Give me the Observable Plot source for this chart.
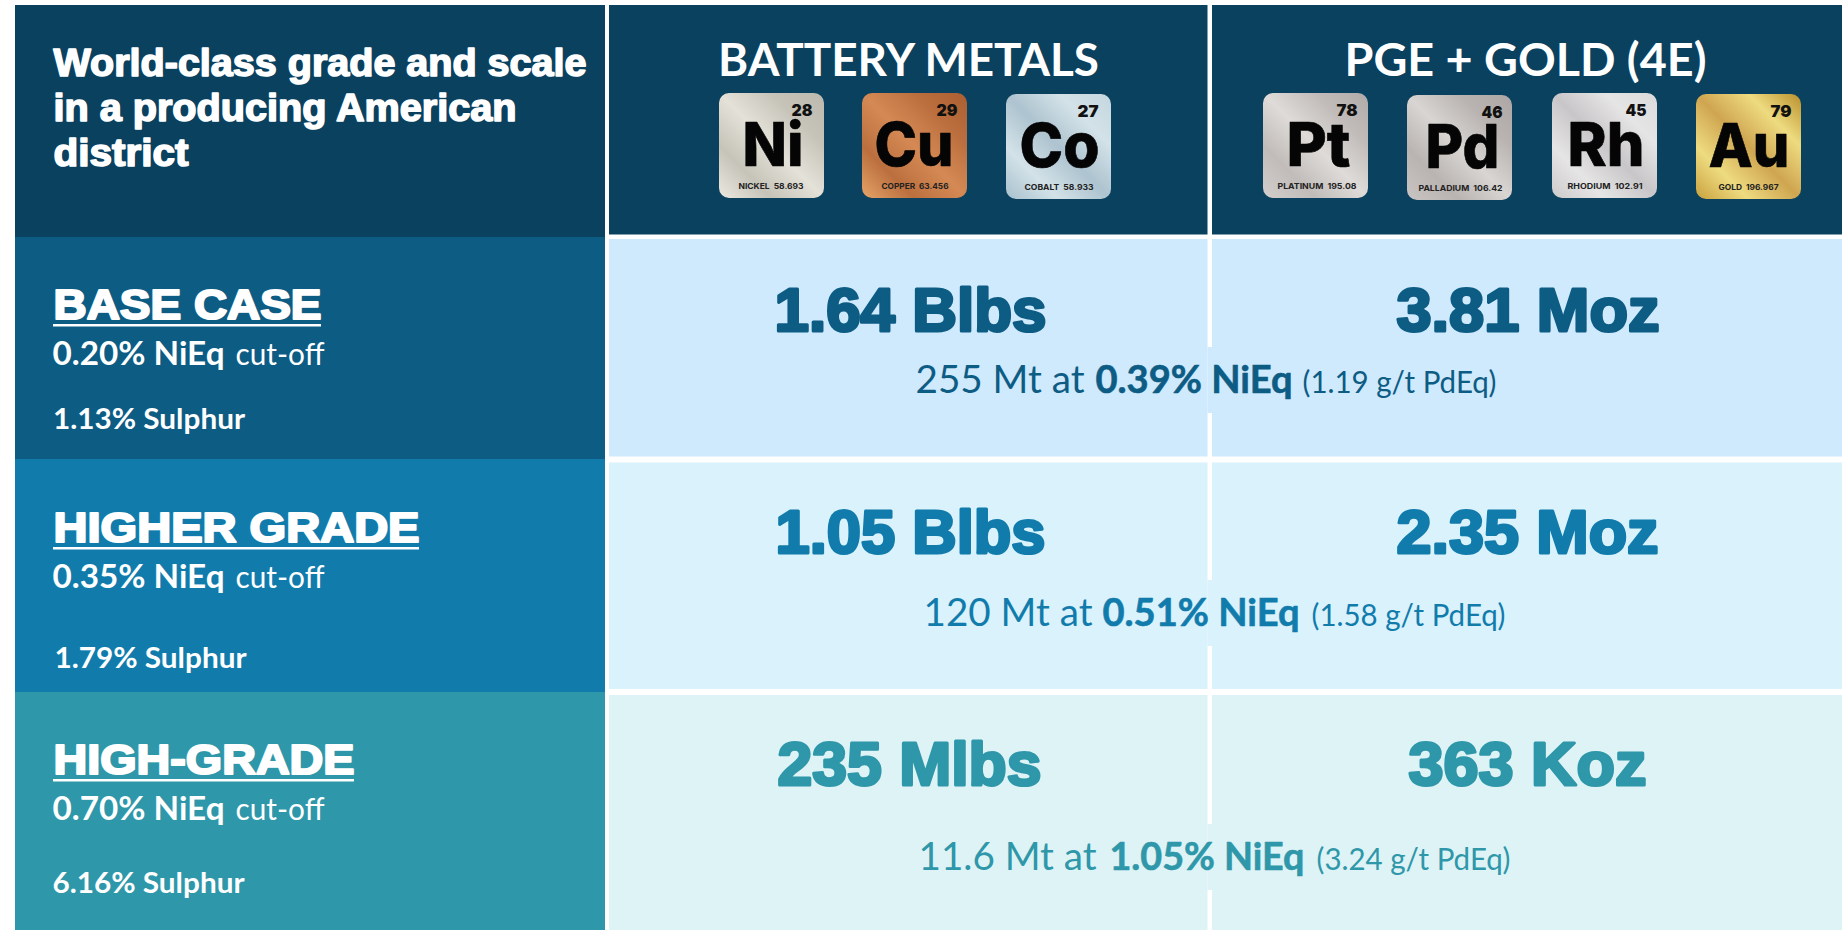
<!DOCTYPE html>
<html><head><meta charset="utf-8">
<script src="https://cdn.jsdelivr.net/npm/d3@7"></script>
<script src="https://cdn.jsdelivr.net/npm/@observablehq/plot@0.6"></script>
<style>html,body{margin:0;padding:0;background:#fff;overflow:hidden}svg{display:block}</style>
</head><body><div id="chart"></div>
<script>
// ---- content ----
const titleLines = ["World-class grade and scale", "in a producing American", "district"];
const columnHeads = ["BATTERY METALS", "PGE + GOLD (4E)"];
const caseNames = ["BASE CASE", "HIGHER GRADE", "HIGH-GRADE"];
const cutoffs = ["0.20% NiEq", "0.35% NiEq", "0.70% NiEq"];
const sulphur = ["1.13% Sulphur", "1.79% Sulphur", "6.16% Sulphur"];
const batteryTotals = ["1.64 Blbs", "1.05 Blbs", "235 Mlbs"];
const pgeTotals = ["3.81 Moz", "2.35 Moz", "363 Koz"];
const tonnage = ["255 Mt at", "120 Mt at", "11.6 Mt at"];
const grades = ["0.39% NiEq", "0.51% NiEq", "1.05% NiEq"];
const pdEq = ["(1.19 g/t PdEq)", "(1.58 g/t PdEq)", "(3.24 g/t PdEq)"];
const symbols = ["Ni", "Cu", "Co", "Pt", "Pd", "Rh", "Au"];
const atomicNumbers = ["28", "29", "27", "78", "46", "45", "79"];
const elementNames = ["NICKEL", "COPPER", "COBALT", "PLATINUM", "PALLADIUM", "RHODIUM", "GOLD"];
const atomicWeights = ["58.693", "63.456", "58.933", "195.08", "106.42", "102.91", "196.967"];

// ---- layout (pixels of the picture) ----
const W = 1844, H = 930;
const colX = [[15, 605], [609, 1207.5], [1212, 1842]];
const leftRowY = [[237, 459], [459, 692], [692, 930]];
const rightRowY = [[239, 456.5], [462.5, 689], [695, 930]];
const gapY = [[347, 413], [580, 646], [824, 890]];
const leftFill = ["#0d5c84", "#117cac", "#2e97a9"];
const rightFill = ["#cfe9fd", "#d9f2fc", "#def3f6"];

const titleW = [533, 463, 135];
const headX = [717.5, 1344], headW = [381, 362];
const nameBase = [318, 541, 773], nameW = [268, 366, 301];
const cutBase = [364, 587, 819];
const cutW = 172, cutOffX = 235, cutOffW = 89;
const sulX = [52.5, 54, 52], sulBase = [428, 667, 892], sulW = 192;
const totalBase = [330, 552, 784];
const batX = [774, 775, 777], batW = [272, 270, 264];
const pgeX = [1396, 1396, 1408], pgeW = [263, 262, 238];
const runBase = [392, 625, 869];
const run1X = [915, 923, 918], run1W = [169, 169, 178];
const run2X = [1095, 1102, 1109], run2W = [197, 197, 195];
const run3X = [1302, 1311, 1316], run3W = 194;

const tileX = [719, 862, 1006, 1263, 1407, 1552, 1696];
const tileY = [93, 93, 94, 93, 95, 93, 94];
const tileW = 105;
const symX = [742, 874, 1019, 1286, 1425, 1567, 1708];
const symW = [61, 79, 80, 64, 74, 77, 81];
const numRight = [812, 957, 1098, 1357, 1502, 1646, 1791];
const capX = [738, 881, 1024, 1277, 1418, 1567, 1718];
const capW = [65, 67, 69, 79, 84, 75, 60];
const gradients = [
  ["ni", "#ece9e1", "#c6c3b9", "#e4e1d8", "#bdb9ae"],
  ["cu", "#e6a468", "#bb6f3e", "#d58a55", "#ab5f32"],
  ["co", "#a8c0cd", "#d3e2e8", "#adc3cf", "#c4d6de"],
  ["pt", "#d3cfcd", "#c1bcb9", "#dedbd9", "#b0aba8"],
  ["pd", "#c9c5c3", "#b9b4b1", "#d8d5d3", "#aca7a4"],
  ["rh", "#cccaca", "#e6e5e5", "#c8c6c8", "#dadadc"],
  ["au", "#c9a13d", "#eedb80", "#cfa550", "#b98f2c"]
];

// ---- tables built from the arrays ----
const idx = [0, 1, 2];
const tiles = symbols.map((s, i) => ({s, n: atomicNumbers[i], cap: `${elementNames[i]}  ${atomicWeights[i]}`, x: tileX[i], y: tileY[i], g: gradients[i][0], i}));
const heavy = "Liberation Sans, Arial, sans-serif";
const body = "Lato, Carlito, Calibri, sans-serif";
const tileFont = "Inter, Roboto, sans-serif";

const defs = () => {
  const ns = "http://www.w3.org/2000/svg";
  const d = document.createElementNS(ns, "defs");
  gradients.forEach(([id, a, b, c, e]) => {
    const g = document.createElementNS(ns, "linearGradient");
    g.setAttribute("id", id);
    for (const [k, v] of [["x1", 0], ["y1", 1], ["x2", 1], ["y2", 0]]) g.setAttribute(k, v);
    [a, b, c, b, e].forEach((col, i) => {
      const st = document.createElementNS(ns, "stop");
      st.setAttribute("offset", i / 4);
      st.setAttribute("stop-color", col);
      g.appendChild(st);
    });
    d.appendChild(g);
  });
  return d;
};

// squeeze or stretch each text of a mark to the width measured in the picture
const fit = widths => function (index, scales, values, dims, context, next) {
  const g = next(index, scales, values, dims, context);
  g.querySelectorAll("text").forEach((t, j) => {
    const w = typeof widths === "number" ? widths : widths[index[j]];
    t.setAttribute("textLength", w);
    t.setAttribute("lengthAdjust", "spacingAndGlyphs");
  });
  return g;
};
const txt = (data, widths, o) => Plot.text(data, {lineAnchor: "bottom", textAnchor: "start", render: fit(widths), ...o});

const chart = Plot.plot({
  width: W, height: H,
  margin: 0,
  x: {domain: [0, W], range: [0, W], axis: null},
  y: {domain: [0, H], range: [0, H], axis: null},
  style: {background: "#fff"},
  marks: [
    defs,
    // header
    Plot.rect(colX, {x1: d => d[0], x2: d => d[1], y1: 5, y2: (d, i) => i ? 234.5 : 237, fill: "#0a415f"}),
    // left cells
    Plot.rect(idx, {x1: colX[0][0], x2: colX[0][1], y1: i => leftRowY[i][0], y2: i => leftRowY[i][1], fill: i => leftFill[i]}),
    // right cells
    Plot.rect(idx, {x1: colX[1][0], x2: colX[1][1], y1: i => rightRowY[i][0], y2: i => rightRowY[i][1], fill: i => rightFill[i]}),
    Plot.rect(idx, {x1: colX[2][0], x2: colX[2][1], y1: i => rightRowY[i][0], y2: i => rightRowY[i][1], fill: i => rightFill[i]}),
    // band bridging the column gap behind the grade text
    Plot.rect(idx, {x1: colX[1][1], x2: colX[2][0], y1: i => gapY[i][0], y2: i => gapY[i][1], fill: i => rightFill[i]}),
    // title
    txt(titleLines, titleW, {x: 53, y: (d, i) => 75 + i * 45, text: d => d, fontFamily: heavy, fontWeight: 700, fontSize: 38, fill: "#fff", stroke: "#fff", strokeWidth: 1.6}),
    // column heads
    txt(columnHeads, headW, {x: (d, i) => headX[i], y: 75, text: d => d, fontFamily: body, fontWeight: 700, fontSize: 46, fill: "#fff"}),
    // tiles
    Plot.rect(tiles, {x1: "x", x2: d => d.x + tileW, y1: "y", y2: d => d.y + tileW, r: 10, fill: d => `url(#${d.g})`}),
    txt(tiles, symW, {x: d => symX[d.i], y: d => d.y + 72, text: "s", fontFamily: tileFont, fontWeight: 800, fontSize: 61, fill: "#050505", stroke: "#050505", strokeWidth: 0.6}),
    txt(tiles, 21, {x: d => numRight[d.i] - 21, y: d => d.y + 22, text: "n", fontFamily: tileFont, fontWeight: 900, fontSize: 16, fill: "#111"}),
    txt(tiles, capW, {x: d => capX[d.i], y: d => d.y + 95, text: "cap", fontFamily: tileFont, fontWeight: 700, fontSize: 8, fill: "#222"}),
    // left column texts
    txt(idx, nameW, {x: 53, y: i => nameBase[i], text: i => caseNames[i], fontFamily: heavy, fontWeight: 700, fontSize: 43, fill: "#fff", stroke: "#fff", strokeWidth: 2.2}),
    Plot.rect(idx, {x1: 53, x2: i => 53 + nameW[i], y1: i => nameBase[i] + 6, y2: i => nameBase[i] + 8.5, fill: "#fff"}),
    txt(idx, cutW, {x: 52, y: i => cutBase[i], text: i => cutoffs[i], fontFamily: body, fontWeight: 700, fontSize: 32, fill: "#fff"}),
    txt(idx, cutOffW, {x: cutOffX, y: i => cutBase[i], text: () => "cut-off", fontFamily: body, fontWeight: i => i === 0 ? 700 : 400, fontSize: 30, fill: "#fff"}),
    txt(idx, sulW, {x: i => sulX[i], y: i => sulBase[i], text: i => sulphur[i], fontFamily: body, fontWeight: 700, fontSize: 28, fill: "#fff"}),
    // totals
    txt(idx, batW, {x: i => batX[i], y: i => totalBase[i], text: i => batteryTotals[i], fontFamily: heavy, fontWeight: 700, fontSize: 61, fill: i => leftFill[i], stroke: i => leftFill[i], strokeWidth: 3}),
    txt(idx, pgeW, {x: i => pgeX[i], y: i => totalBase[i], text: i => pgeTotals[i], fontFamily: heavy, fontWeight: 700, fontSize: 61, fill: i => leftFill[i], stroke: i => leftFill[i], strokeWidth: 3}),
    // grade line runs
    txt(idx, run1W, {x: i => run1X[i], y: i => runBase[i], text: i => tonnage[i], fontFamily: body, fontSize: 38, fill: i => leftFill[i]}),
    txt(idx, run2W, {x: i => run2X[i], y: i => runBase[i], text: i => grades[i], fontFamily: body, fontWeight: 700, fontSize: 38, fill: i => leftFill[i], stroke: i => leftFill[i], strokeWidth: 0.6}),
    txt(idx, run3W, {x: i => run3X[i], y: i => runBase[i], text: i => pdEq[i], fontFamily: body, fontSize: 30, fill: i => leftFill[i]})
  ]
});
document.getElementById("chart").appendChild(chart);
</script></body></html>
